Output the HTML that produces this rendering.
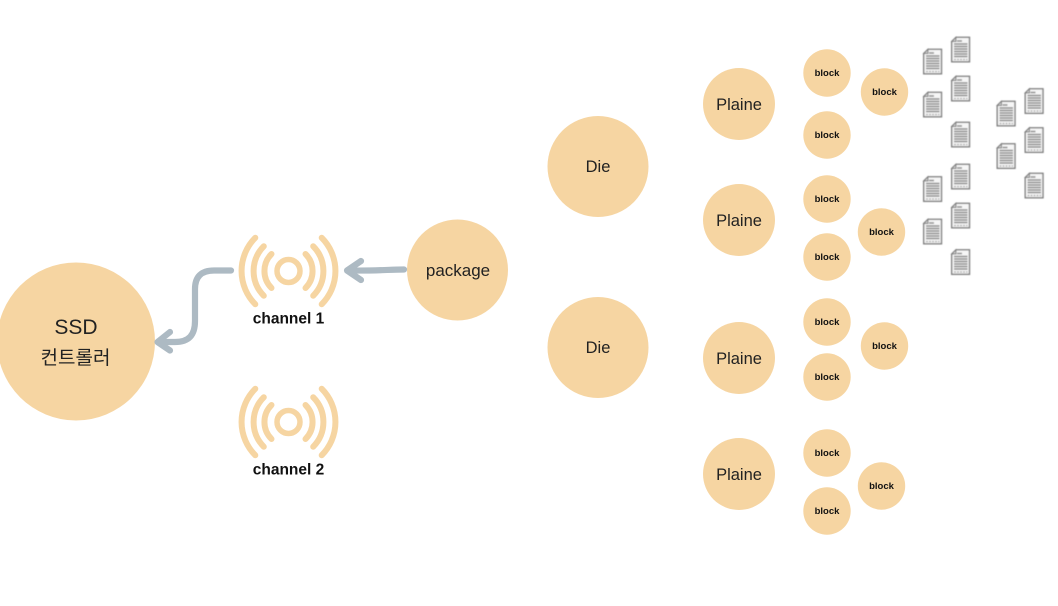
<!DOCTYPE html>
<html><head><meta charset="utf-8">
<style>
html,body{margin:0;padding:0;background:#fff;width:1058px;height:606px;overflow:hidden}
svg{display:block}
.n{font-family:"Liberation Sans","Noto Sans CJK KR",sans-serif;fill:#222;text-anchor:middle}
.b{font-family:"Liberation Sans",sans-serif;font-weight:bold;font-size:9.5px;fill:#111;text-anchor:middle}
.c{font-family:"Liberation Sans","Noto Sans CJK KR",sans-serif;font-weight:700;font-size:15.500px;fill:#111;text-anchor:middle}
</style></head><body>
<svg width="1058" height="606" viewBox="0 0 1058 606" xmlns="http://www.w3.org/2000/svg">
<defs>
<filter id="soft" x="-10%" y="-10%" width="120%" height="120%"><feGaussianBlur stdDeviation="0.4"/></filter>
<g id="ant" fill="none" stroke="#f6d5a2" stroke-linecap="round">
<circle cx="0" cy="0" r="11.500" stroke-width="5.500"/>
<g stroke-width="6">
<path d="M-33.200 -33.200A47 47 0 0 0 -33.200 33.200M33.200 -33.200A47 47 0 0 1 33.200 33.200"/>
<path d="M-24.700 -24.700A35 35 0 0 0 -24.700 24.700M24.700 -24.700A35 35 0 0 1 24.700 24.700"/>
<path d="M-17 -17A24 24 0 0 0 -17 17M17 -17A24 24 0 0 1 17 17"/>
</g>
</g>
<g id="doc" filter="url(#soft)">
<path d="M5 .8H18.500V25.300H.7V5Z" fill="#f6f6f6" stroke="#808080" stroke-width="1.400"/>
<path d="M5 .8V5H.7Z" fill="#ccc" stroke="#808080" stroke-width="1"/>
<path d="M6 4.500H11M3 7.500H16.500M3 10H16.500M3 12.500H16.500M3 15H16.500M3 17.500H16.500M3 20H16.500" stroke="#8c8c8c" stroke-width="1.500"/>
<path d="M3 23H16.500" stroke="#aaa" stroke-width="1.200" stroke-dasharray="2 1"/>
</g>
</defs>
<g fill="#f6d5a2">
<circle cx="76" cy="341.500" r="79"/>
<circle cx="457.500" cy="270" r="50.500"/>
<circle cx="598" cy="166.500" r="50.500"/>
<circle cx="598" cy="347.500" r="50.500"/>
<circle cx="739" cy="104" r="36"/>
<circle cx="739" cy="220" r="36"/>
<circle cx="739" cy="358" r="36"/>
<circle cx="739" cy="474" r="36"/>
<circle cx="827" cy="73" r="23.700"/>
<circle cx="884.500" cy="92" r="23.700"/>
<circle cx="827" cy="135" r="23.700"/>
<circle cx="827" cy="199" r="23.700"/>
<circle cx="881.500" cy="232" r="23.700"/>
<circle cx="827" cy="257" r="23.700"/>
<circle cx="827" cy="322" r="23.700"/>
<circle cx="884.500" cy="346" r="23.700"/>
<circle cx="827" cy="377" r="23.700"/>
<circle cx="827" cy="453" r="23.700"/>
<circle cx="881.500" cy="486" r="23.700"/>
<circle cx="827" cy="511" r="23.700"/>
</g>
<use href="#ant" x="288.500" y="271"/>
<use href="#ant" x="288.500" y="422"/>
<g fill="none" stroke="#adbac3" stroke-width="6.200" stroke-linecap="round" stroke-linejoin="round">
<path d="M404 269.500C390 269.500 375 271 349 270.500"/>
<path d="M361 261L347 270.500L361 280"/>
<path d="M231 270.500H214C201 270.500 195 277 195 289V321C195 335 189 342 175 342H159"/>
<path d="M170 332L157.500 342L170 350.500"/>
</g>
<text class="n" x="76" y="334" font-size="21">SSD</text>
<text class="n" x="75.500" y="364" font-size="19">컨트롤러</text>
<text class="n" x="458" y="276" font-size="17">package</text>
<text class="n" x="598" y="172" font-size="16.500">Die</text>
<text class="n" x="598" y="353" font-size="16.500">Die</text>
<text class="n" x="739" y="110" font-size="16.500">Plaine</text>
<text class="n" x="739" y="226" font-size="16.500">Plaine</text>
<text class="n" x="739" y="364" font-size="16.500">Plaine</text>
<text class="n" x="739" y="480" font-size="16.500">Plaine</text>
<text class="c" x="288.500" y="323.500">channel 1</text>
<text class="c" x="288.500" y="474.500">channel 2</text>
<text class="b" x="827" y="76">block</text>
<text class="b" x="884.500" y="95">block</text>
<text class="b" x="827" y="138">block</text>
<text class="b" x="827" y="202">block</text>
<text class="b" x="881.500" y="235">block</text>
<text class="b" x="827" y="260">block</text>
<text class="b" x="827" y="325">block</text>
<text class="b" x="884.500" y="349">block</text>
<text class="b" x="827" y="380">block</text>
<text class="b" x="827" y="456">block</text>
<text class="b" x="881.500" y="489">block</text>
<text class="b" x="827" y="514">block</text>
<use href="#doc" x="923" y="48.500"/>
<use href="#doc" x="951" y="36.500"/>
<use href="#doc" x="951" y="75.500"/>
<use href="#doc" x="923" y="91.500"/>
<use href="#doc" x="951" y="121.500"/>
<use href="#doc" x="996.500" y="100.500"/>
<use href="#doc" x="1024.500" y="88"/>
<use href="#doc" x="1024.500" y="127"/>
<use href="#doc" x="996.500" y="143"/>
<use href="#doc" x="1024.500" y="172.500"/>
<use href="#doc" x="923" y="176"/>
<use href="#doc" x="951" y="163.500"/>
<use href="#doc" x="951" y="202.500"/>
<use href="#doc" x="923" y="218.500"/>
<use href="#doc" x="951" y="249"/>
</svg>
</body></html>
